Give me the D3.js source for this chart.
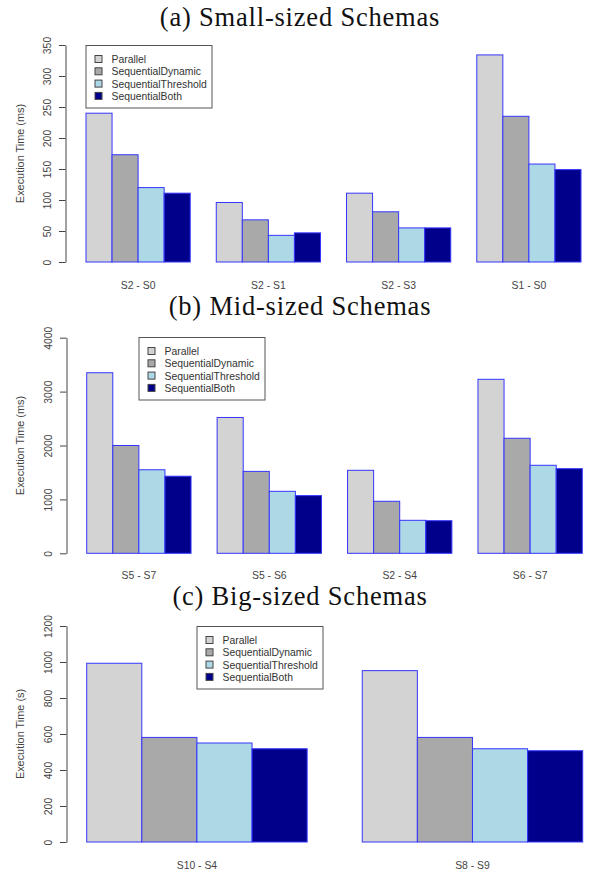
<!DOCTYPE html>
<html>
<head>
<meta charset="utf-8">
<script src="https://cdn.jsdelivr.net/npm/d3@7"></script>
<style>
  body { margin: 0; background: #fff; }
  svg text { font-family: "Liberation Sans", Arial, sans-serif; }
</style>
</head>
<body>
<div id="chart"></div>
<script>
// series shared by the three panels
const seriesNames = ["Parallel", "SequentialDynamic", "SequentialThreshold", "SequentialBoth"];
const seriesColors = ["#d3d3d3", "#a9a9a9", "#add8e6", "#00008b"];

// (a) small-sized schemas, ms
const smallPairs = ["S2 - S0", "S2 - S1", "S2 - S3", "S1 - S0"];
const smallValues = [
    [240, 173, 120, 111],
    [96, 68, 43, 47],
    [111, 81, 55, 55],
    [334, 235, 158, 149]
];
const smallTicks = [0, 50, 100, 150, 200, 250, 300, 350];

// (b) mid-sized schemas, ms
const midPairs = ["S5 - S7", "S5 - S6", "S2 - S4", "S6 - S7"];
const midValues = [
    [3350, 2000, 1550, 1430],
    [2520, 1520, 1150, 1070],
    [1540, 965, 612, 605],
    [3228, 2134, 1633, 1570]
];
const midTicks = [0, 1000, 2000, 3000, 4000];

// (c) big-sized schemas, s
const bigPairs = ["S10 - S4", "S8 - S9"];
const bigValues = [
    [993, 581, 550, 518],
    [952, 581, 518, 507]
];
const bigTicks = [0, 200, 400, 600, 800, 1000, 1200];

const width = 590, height = 871;

const svg = d3.select("#chart")
    .append("svg")
    .attr("width", width)
    .attr("height", height);

// one panel = title + y axis + grouped bars + legend
function drawPanel(p) {
    const g = svg.append("g");

    g.append("text")
        .attr("x", 300)
        .attr("y", p.titleY)
        .attr("text-anchor", "middle")
        .style("font-family", "'Liberation Serif', 'Times New Roman', serif")
        .style("font-size", "26.5px")
        .style("letter-spacing", "0.8px")
        .style("fill", "#111")
        .text(p.title);

    const y = d3.scaleLinear()
        .domain([0, p.ticks[p.ticks.length - 1]])
        .range([p.bottom, p.top]);

    const x0 = d3.scaleBand()
        .domain(p.pairs)
        .range([p.left, p.right])
        .paddingInner(0.2)
        .paddingOuter(0);

    const x1 = d3.scaleBand()
        .domain(seriesNames)
        .range([0, x0.bandwidth()]);

    const color = d3.scaleOrdinal()
        .domain(seriesNames)
        .range(seriesColors);

    // y axis, R style: rotated labels
    const axis = g.append("g")
        .attr("transform", `translate(${p.axisX},0)`)
        .call(d3.axisLeft(y).tickValues(p.ticks).tickSize(6.5).tickSizeOuter(0).tickFormat(d3.format("d")));
    axis.select(".domain").attr("stroke", "#444");
    axis.selectAll(".tick line").attr("stroke", "#444");
    axis.selectAll(".tick text")
        .attr("x", null)
        .attr("dy", null)
        .attr("transform", "translate(-14.5,0) rotate(-90)")
        .attr("text-anchor", "middle")
        .style("font-size", "10.4px")
        .style("fill", "#444");

    g.append("text")
        .attr("transform", `translate(24,${(p.top + p.bottom) / 2}) rotate(-90)`)
        .attr("text-anchor", "middle")
        .style("font-size", "10.9px")
        .style("fill", "#444")
        .text(p.yLabel);

    // bars
    const groups = g.selectAll(".grp")
        .data(p.pairs)
        .join("g")
        .attr("class", "grp")
        .attr("transform", d => `translate(${x0(d)},0)`);

    groups.selectAll("rect")
        .data((d, i) => p.values[i].map((v, j) => ({key: seriesNames[j], value: v})))
        .join("rect")
        .attr("x", d => x1(d.key))
        .attr("y", d => y(d.value))
        .attr("width", x1.bandwidth())
        .attr("height", d => y(0) - y(d.value))
        .attr("fill", d => color(d.key))
        .attr("stroke", "#3535ff")
        .attr("stroke-width", 1);

    // group labels under the bars
    g.selectAll(".pair")
        .data(p.pairs)
        .join("text")
        .attr("class", "pair")
        .attr("x", d => x0(d) + x0.bandwidth() / 2)
        .attr("y", p.labelY)
        .attr("text-anchor", "middle")
        .style("font-size", "10.4px")
        .style("fill", "#444")
        .text(d => d);

    // legend
    const lg = g.append("g").attr("transform", `translate(${p.legend[0]},${p.legend[1]})`);
    lg.append("rect")
        .attr("x", 0.5).attr("y", 0.5)
        .attr("width", 126).attr("height", 62.5)
        .attr("fill", "#fff")
        .attr("stroke", "#555");
    const items = lg.selectAll(".item")
        .data(seriesNames)
        .join("g")
        .attr("class", "item")
        .attr("transform", (d, i) => `translate(0,${14 + i * 12.3})`);
    items.append("rect")
        .attr("x", 9.5).attr("y", -3.5)
        .attr("width", 7).attr("height", 7)
        .attr("fill", d => color(d))
        .attr("stroke", "#444");
    items.append("text")
        .attr("x", 26)
        .attr("y", 4)
        .style("font-size", "10.4px")
        .style("fill", "#333")
        .text(d => d);
}

drawPanel({
    title: "(a) Small-sized Schemas", titleY: 26,
    pairs: smallPairs, values: smallValues, ticks: smallTicks,
    yLabel: "Execution Time (ms)",
    top: 45, bottom: 262, left: 86, right: 581, axisX: 65.5, labelY: 289,
    legend: [85.5, 45]
});

drawPanel({
    title: "(b) Mid-sized Schemas", titleY: 315,
    pairs: midPairs, values: midValues, ticks: midTicks,
    yLabel: "Execution Time (ms)",
    top: 337.7, bottom: 553.3, left: 86.7, right: 582.3, axisX: 66.5, labelY: 579,
    legend: [138.5, 337]
});

drawPanel({
    title: "(c) Big-sized Schemas", titleY: 605,
    pairs: bigPairs, values: bigValues, ticks: bigTicks,
    yLabel: "Execution Time (s)",
    top: 626, bottom: 842, left: 86.7, right: 582.7, axisX: 66.5, labelY: 869,
    legend: [196.5, 626]
});
</script>
</body>
</html>
